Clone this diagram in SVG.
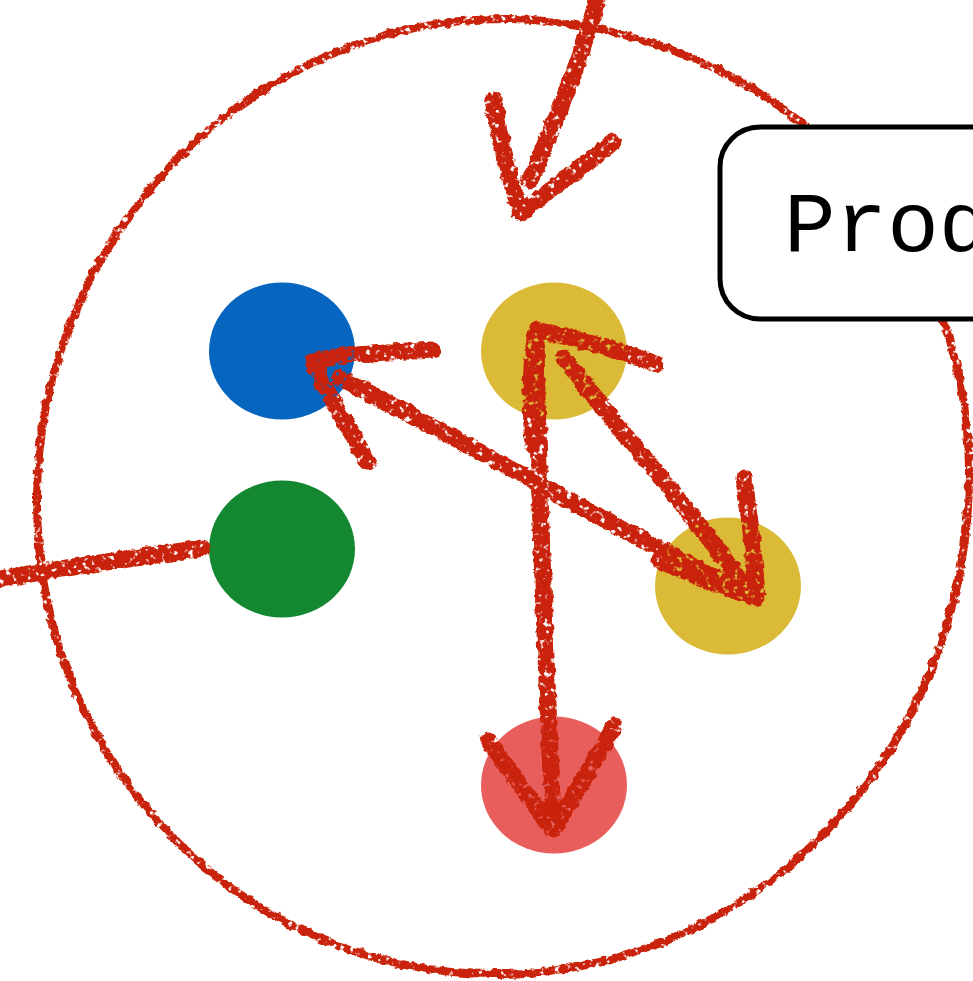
<svg xmlns="http://www.w3.org/2000/svg" width="973" height="981" viewBox="0 0 973 981">
  <style>
    .rough { fill: none; stroke: #C92407; stroke-linecap: round; stroke-linejoin: round; }
    .edge { stroke-width: 17; }
    .ring { stroke-width: 8; }
    .label { font-family: "Courier New", "Liberation Mono", monospace; font-size: 86px; fill: #000; }
  </style>
  <defs>
    <filter id="crayon" x="-10%" y="-10%" width="120%" height="120%">
      <feTurbulence type="fractalNoise" baseFrequency="0.12" numOctaves="3" seed="3" result="n"/>
      <feDisplacementMap in="SourceGraphic" in2="n" scale="6" xChannelSelector="R" yChannelSelector="G" result="d"/>
      <feTurbulence type="fractalNoise" baseFrequency="0.18" numOctaves="2" seed="7" result="h"/>
      <feColorMatrix in="h" type="matrix" values="0 0 0 0 0  0 0 0 0 0  0 0 0 0 0  -7 0 0 0 5.2" result="hm"/>
      <feComposite in="d" in2="hm" operator="in"/>
    </filter>
  </defs>

  <rect width="973" height="981" fill="#fff"/>

  <g id="boundary" filter="url(#crayon)">
    <path class="rough ring" d="M510 19 C760 24 968 215 969 470 C971 745 760 972 500 974 C240 976 36 760 37 500 C36 240 250 16 510 19 Z"/>
  </g>

  <g id="node-blue"><ellipse cx="282" cy="351" rx="73" ry="68.5" fill="#0565BF"/></g>
  <g id="node-yellow-top"><ellipse cx="554" cy="351" rx="73" ry="68.5" fill="#DBBA37"/></g>
  <g id="node-green"><ellipse cx="282" cy="549" rx="73" ry="68.5" fill="#138831"/></g>
  <g id="node-yellow-right"><ellipse cx="728" cy="586" rx="73" ry="68.5" fill="#DBBA37"/></g>
  <g id="node-red"><ellipse cx="554" cy="785" rx="73" ry="68.5" fill="#E85E5C"/></g>

  <g id="label-box">
    <rect x="720" y="127" width="400" height="192" rx="40" ry="40" fill="#fff" stroke="#000" stroke-width="5"/>
    <text class="label" x="784" y="251">Prod</text>
  </g>

  <g id="connectors" class="rough edge" filter="url(#crayon)">
    <!-- incoming arrow from top -->
    <path d="M598 -5 C585 50 560 110 530 180"/>
    <path d="M493 100 C500 140 510 180 521 213 C550 190 585 165 613 142"/>
    <!-- green outgoing -->
    <path d="M202 548 C140 558 70 566 -5 580"/>
    <!-- right yellow to blue -->
    <path d="M752 597 C620 530 480 450 340 378"/>
    <path d="M432 350 C390 352 345 352 313 362 C330 400 350 430 368 462"/>
    <!-- top yellow to right yellow (both ends) -->
    <path d="M564 358 C620 430 690 510 748 590"/>
    <path d="M744 478 C750 520 755 560 757 598 C720 585 690 575 660 560"/>
    <path d="M533 445 C530 400 530 360 537 330 C580 340 620 350 655 364"/>
    <!-- top yellow to red -->
    <path d="M536 338 C538 500 546 650 553 822"/>
    <path d="M488 741 C510 770 530 800 553 829 C575 795 595 760 614 726"/>
  </g>
</svg>
